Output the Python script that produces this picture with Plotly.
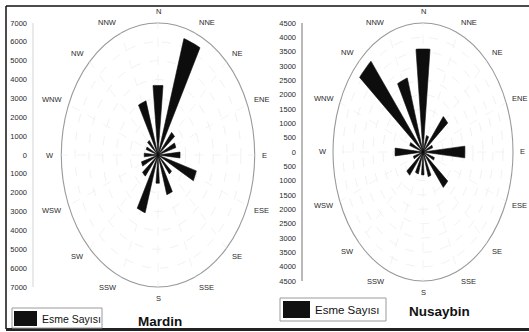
import numpy as np
import plotly.graph_objects as go

# ---------------- data ----------------
directions = ["N", "NNE", "NE", "ENE", "E", "ESE", "SE", "SSE",
              "S", "SSW", "SW", "WSW", "W", "WNW", "NW", "NNW"]
mardin_counts = [3700, 6450, 1550, 1350, 1600, 2900, 1300, 2200,
                 1500, 3200, 1450, 1250, 1000, 900, 1000, 3000]
nusaybin_counts = [3600, 600, 1600, 500, 2100, 600, 1600, 900,
                   800, 800, 1050, 500, 1400, 700, 4100, 2700]
mardin_ticks = list(range(-7000, 7001, 1000))
nusaybin_ticks = list(range(-4500, 4501, 500))
mardin_rings = list(range(1000, 7001, 1000))
nusaybin_rings = list(range(500, 4501, 500))
series_name = "Esme Sayısı"
station_names = ["Mardin", "Nusaybin"]

# ---------------- layout helpers ----------------
W, H = 529, 332
FONT = "Liberation Sans Narrow, Arial Narrow, Liberation Sans, Arial"
EXT = 1.16  # extra vertical room so compass labels stay inside the axis range

panels = [
    dict(counts=mardin_counts, ticks=mardin_ticks, rings=mardin_rings, rmax=7000,
         cx=158, cy=155, rx=96.7, ry=132, axis_px=33, right_px=265,
         xa="x", ya="y", axcol="#d4d4d4", axw=1),
    dict(counts=nusaybin_counts, ticks=nusaybin_ticks, rings=nusaybin_rings, rmax=4500,
         cx=423, cy=152, rx=90, ry=129, axis_px=302, right_px=529,
         xa="x2", ya="y2", axcol="#a8a8a8", axw=1.6),
]

def px(x):
    return x / W

def py(y):
    return 1 - y / H

fig = go.Figure()
shapes = []
annotations = []
half_w = 5.6  # half angular width of each wedge (deg)

for k, p in enumerate(panels):
    xs, ys = [], []
    for i, r in enumerate(p["counts"]):
        th = i * 22.5
        xs.append(0); ys.append(0)
        for a in np.linspace(th - half_w, th + half_w, 7):
            xs.append(r * np.sin(np.radians(a)))
            ys.append(r * np.cos(np.radians(a)))
        xs.append(0); ys.append(0)
        xs.append(None); ys.append(None)
    fig.add_trace(go.Scatter(x=xs, y=ys, mode="lines", fill="toself",
                             fillcolor="#0d0d0d", line=dict(color="#0d0d0d", width=0.6),
                             name=series_name, showlegend=False, hoverinfo="skip",
                             xaxis=p["xa"], yaxis=p["ya"]))

    rmax = p["rmax"]
    xr = [(p["axis_px"] - p["cx"]) / p["rx"] * rmax, (p["right_px"] - p["cx"]) / p["rx"] * rmax]
    ry_ext = p["ry"] * EXT
    axsuffix = "" if k == 0 else "2"
    fig.update_layout(**{
        "xaxis" + axsuffix: dict(domain=[px(p["axis_px"]), px(p["right_px"])], range=xr,
                                 visible=False, fixedrange=True, anchor=p["ya"]),
        "yaxis" + axsuffix: dict(domain=[py(p["cy"] + ry_ext), py(p["cy"] - ry_ext)],
                                 range=[-rmax * EXT, rmax * EXT], tickvals=p["ticks"],
                                 ticktext=[str(abs(v)) for v in p["ticks"]],
                                 showgrid=False, zeroline=False, showline=False,
                                 ticks="", ticklabelstandoff=5, anchor=p["xa"],
                                 tickfont=dict(family=FONT, size=7.5, color="#2a2a2a"),
                                 fixedrange=True),
    })

    xref, yref = p["xa"], p["ya"]
    # vertical scale line (only over the tick span)
    shapes.append(dict(type="line", xref=xref + " domain", yref=yref, x0=0, x1=0,
                       y0=-rmax, y1=rmax, line=dict(color=p["axcol"], width=p["axw"])))
    # rings
    for rv in p["rings"]:
        outer = rv == rmax
        shapes.append(dict(type="circle", xref=xref, yref=yref, x0=-rv, x1=rv, y0=-rv, y1=rv,
                           line=dict(color="#9a9a9a" if outer else "#ebebeb",
                                     width=1.1 if outer else 0.7,
                                     dash="solid" if outer else "dash"),
                           layer="below"))
    # spokes
    for i in range(16):
        th = np.radians(i * 22.5)
        shapes.append(dict(type="line", xref=xref, yref=yref, x0=0, y0=0,
                           x1=rmax * np.sin(th), y1=rmax * np.cos(th),
                           line=dict(color="#eeeeee", width=0.7, dash="dash"),
                           layer="below"))
    # compass labels
    for i, d in enumerate(directions):
        th = np.radians(i * 22.5)
        s, c = np.sin(th), np.cos(th)
        anchor = "left" if s > 0.01 else ("right" if s < -0.01 else "center")
        annotations.append(dict(x=rmax * 1.05 * s, y=rmax * 1.09 * c, xref=xref, yref=yref,
                                text=d, showarrow=False, xanchor=anchor, yanchor="middle",
                                font=dict(family=FONT, size=7.5, color="#2a2a2a")))

# frame lines
shapes.append(dict(type="line", xref="paper", yref="paper", x0=px(6), x1=px(529), y0=py(6), y1=py(6),
                   line=dict(color="#111111", width=1.5)))
shapes.append(dict(type="line", xref="paper", yref="paper", x0=px(6), x1=px(6), y0=py(6), y1=py(329),
                   line=dict(color="#111111", width=1.5)))
shapes.append(dict(type="line", xref="paper", yref="paper", x0=px(6), x1=px(529), y0=py(329.5), y1=py(329.5),
                   line=dict(color="#222222", width=3)))

# legend boxes + titles
legends = [
    dict(box=(12, 308, 102, 328), sw=(14, 311, 37, 326), tx=40, ty=318.5, fs=10.5,
         title_x=160, title_y=321),
    dict(box=(280, 298, 386, 321), sw=(283, 301, 310, 318), tx=313, ty=310, fs=11.5,
         title_x=439, title_y=311),
]
for k, lg in enumerate(legends):
    x0, y0, x1, y1 = lg["box"]
    shapes.append(dict(type="rect", xref="paper", yref="paper", x0=px(x0), x1=px(x1), y0=py(y1), y1=py(y0),
                       line=dict(color="#9a9a9a", width=1), fillcolor="white"))
    x0, y0, x1, y1 = lg["sw"]
    shapes.append(dict(type="rect", xref="paper", yref="paper", x0=px(x0), x1=px(x1), y0=py(y1), y1=py(y0),
                       line=dict(color="#111111", width=0), fillcolor="#111111"))
    annotations.append(dict(x=px(lg["tx"]), y=py(lg["ty"]), xref="paper", yref="paper", text=series_name,
                            showarrow=False, xanchor="left", yanchor="middle",
                            font=dict(family=FONT, size=lg["fs"], color="#111111")))
    annotations.append(dict(x=px(lg["title_x"]), y=py(lg["title_y"]), xref="paper", yref="paper",
                            text="<b>%s</b>" % station_names[k], showarrow=False,
                            xanchor="center", yanchor="middle",
                            font=dict(family=FONT, size=13.5, color="#111111")))

fig.update_layout(width=W, height=H, margin=dict(l=0, r=0, t=0, b=0),
                  paper_bgcolor="white", plot_bgcolor="white", showlegend=False,
                  shapes=shapes, annotations=annotations)

fig.write_html("out.html", config={"displayModeBar": False},
               post_script="document.body.style.margin='0';")
